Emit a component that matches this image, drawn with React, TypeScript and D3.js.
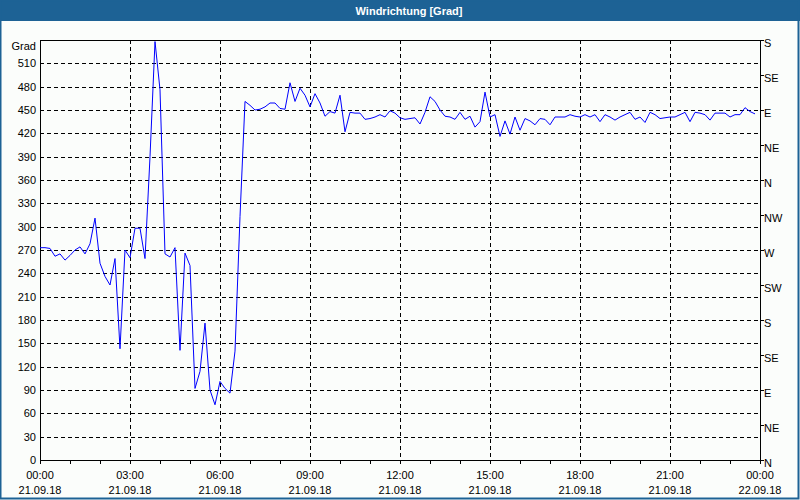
import React from "react";
import * as d3 from "d3";

const TITLE = "Windrichtung [Grad]";
const START = new Date(2018, 8, 21, 0, 0);
const END = new Date(2018, 8, 22, 0, 0);
const STEP_MIN = 10;
const windDir: number[] = [
  273, 273, 272, 262, 265, 257, 263, 270, 274, 265, 278, 311, 253, 236, 225, 259,
  143, 270, 260, 298, 298, 259, 390, 538, 476, 265, 261, 273, 141, 266, 250, 92,
  114, 176, 90, 71, 101, 92, 86, 140, 313, 461, 456, 450, 451, 454, 459, 459,
  452, 451, 485, 461, 478, 469, 454, 471, 459, 442, 448, 446, 469, 422, 447, 446,
  446, 438, 439, 441, 444, 441, 449, 446, 440, 438, 439, 440, 432, 447, 467, 461,
  450, 442, 441, 438, 447, 438, 442, 428, 435, 473, 441, 444, 416, 436, 419, 441,
  424, 439, 436, 431, 439, 438, 431, 441, 441, 441, 444, 442, 441, 444, 441, 444,
  435, 444, 441, 437, 441, 444, 447, 438, 441, 434, 447, 444, 439, 440, 441, 441,
  444, 447, 435, 447, 446, 444, 437, 446, 446, 446, 441, 444, 444, 453, 448, 445,
];
const leftTicks = [0, 30, 60, 90, 120, 150, 180, 210, 240, 270, 300, 330, 360, 390, 420, 450, 480, 510];
const rightTickVals = [0, 45, 90, 135, 180, 225, 270, 315, 360, 405, 450, 495, 540];
const rightTickLabels = ["N", "NE", "E", "SE", "S", "SW", "W", "NW", "N", "NE", "E", "SE", "S"];

const W = 800, H = 500;
const M = { left: 40, right: 760, top: 40, bottom: 460 };
const FONT = "'Liberation Sans', Arial, sans-serif";

export default function App() {
  const x = d3.scaleTime().domain([START, END]).range([M.left, M.right]);
  const y = d3.scaleLinear().domain([0, 540]).range([M.bottom, M.top]);
  const pts = windDir.map((v, i) => ({ t: new Date(START.getTime() + i * STEP_MIN * 60000), v }));
  const line = d3.line<{ t: Date; v: number }>().x(d => x(d.t)).y(d => y(d.v));
  const hourTicks = x.ticks(d3.timeHour.every(1)!);
  const majorTicks = x.ticks(d3.timeHour.every(3)!);
  const fmtT = d3.timeFormat("%H:%M");
  const fmtD = d3.timeFormat("%d.%m.%y");
  return (
    <svg width={W} height={H} style={{ position: "absolute", left: 0, top: 0 }} fontFamily={FONT}>
      <rect x={0} y={0} width={W} height={H} fill="#fbfdfb" />
      <rect x={0} y={0} width={W} height={21} fill="#1d6295" />
      <rect x={0.5} y={0.5} width={W - 2} height={H - 2} fill="none" stroke="#1d6295" strokeWidth={2} />
      <text x={409} y={15} textAnchor="middle" fill="#fff" fontWeight="bold" fontSize={11}>{TITLE}</text>
      {/* grid */}
      {leftTicks.filter(v => v > 0).map(v => (
        <line key={"h" + v} x1={M.left} x2={M.right} y1={Math.round(y(v)) + 0.5} y2={Math.round(y(v)) + 0.5}
          stroke="#000" strokeDasharray="4,3" strokeWidth={1} />
      ))}
      {majorTicks.filter(t => x(t) > M.left && x(t) < M.right).map(t => (
        <line key={"v" + t.getTime()} x1={Math.round(x(t)) + 0.5} x2={Math.round(x(t)) + 0.5} y1={M.top} y2={M.bottom}
          stroke="#000" strokeDasharray="4,3" strokeWidth={1} />
      ))}
      {/* frame */}
      <line x1={M.left} x2={M.right + 0.5} y1={M.top + 0.5} y2={M.top + 0.5} stroke="#000" />
      <line x1={M.left} x2={M.right + 0.5} y1={M.bottom + 0.5} y2={M.bottom + 0.5} stroke="#000" />
      <line x1={M.left + 0.5} x2={M.left + 0.5} y1={M.top} y2={M.bottom + 1} stroke="#000" />
      <line x1={M.right + 0.5} x2={M.right + 0.5} y1={M.top} y2={M.bottom + 1} stroke="#000" />
      {/* data */}
      <path d={line(pts) || ""} fill="none" stroke="#0000ff" strokeWidth={1} />
      {/* left axis labels */}
      {leftTicks.map(v => (
        <text key={"l" + v} x={36} y={y(v) + 4} textAnchor="end" fontSize={11} fill="#000">{v}</text>
      ))}
      <text x={36} y={50} textAnchor="end" fontSize={11} fill="#000">Grad</text>
      {/* right axis */}
      {rightTickVals.map((v, i) => (
        <g key={"r" + v}>
          <line x1={M.right} x2={M.right + 4} y1={Math.round(y(v)) + 0.5} y2={Math.round(y(v)) + 0.5} stroke="#000" />
          <text x={764} y={y(v) + 7} fontSize={11} fill="#000">{rightTickLabels[i]}</text>
        </g>
      ))}
      {/* bottom axis */}
      {hourTicks.map(t => (
        <line key={"t" + t.getTime()} x1={Math.round(x(t)) + 0.5} x2={Math.round(x(t)) + 0.5} y1={M.bottom} y2={M.bottom + 4} stroke="#000" />
      ))}
      {majorTicks.map(t => (
        <g key={"b" + t.getTime()}>
          <text x={x(t)} y={479} textAnchor="middle" fontSize={11} fill="#000">{fmtT(t)}</text>
          <text x={x(t)} y={494} textAnchor="middle" fontSize={11} fill="#000">{fmtD(t)}</text>
        </g>
      ))}
    </svg>
  );
}
